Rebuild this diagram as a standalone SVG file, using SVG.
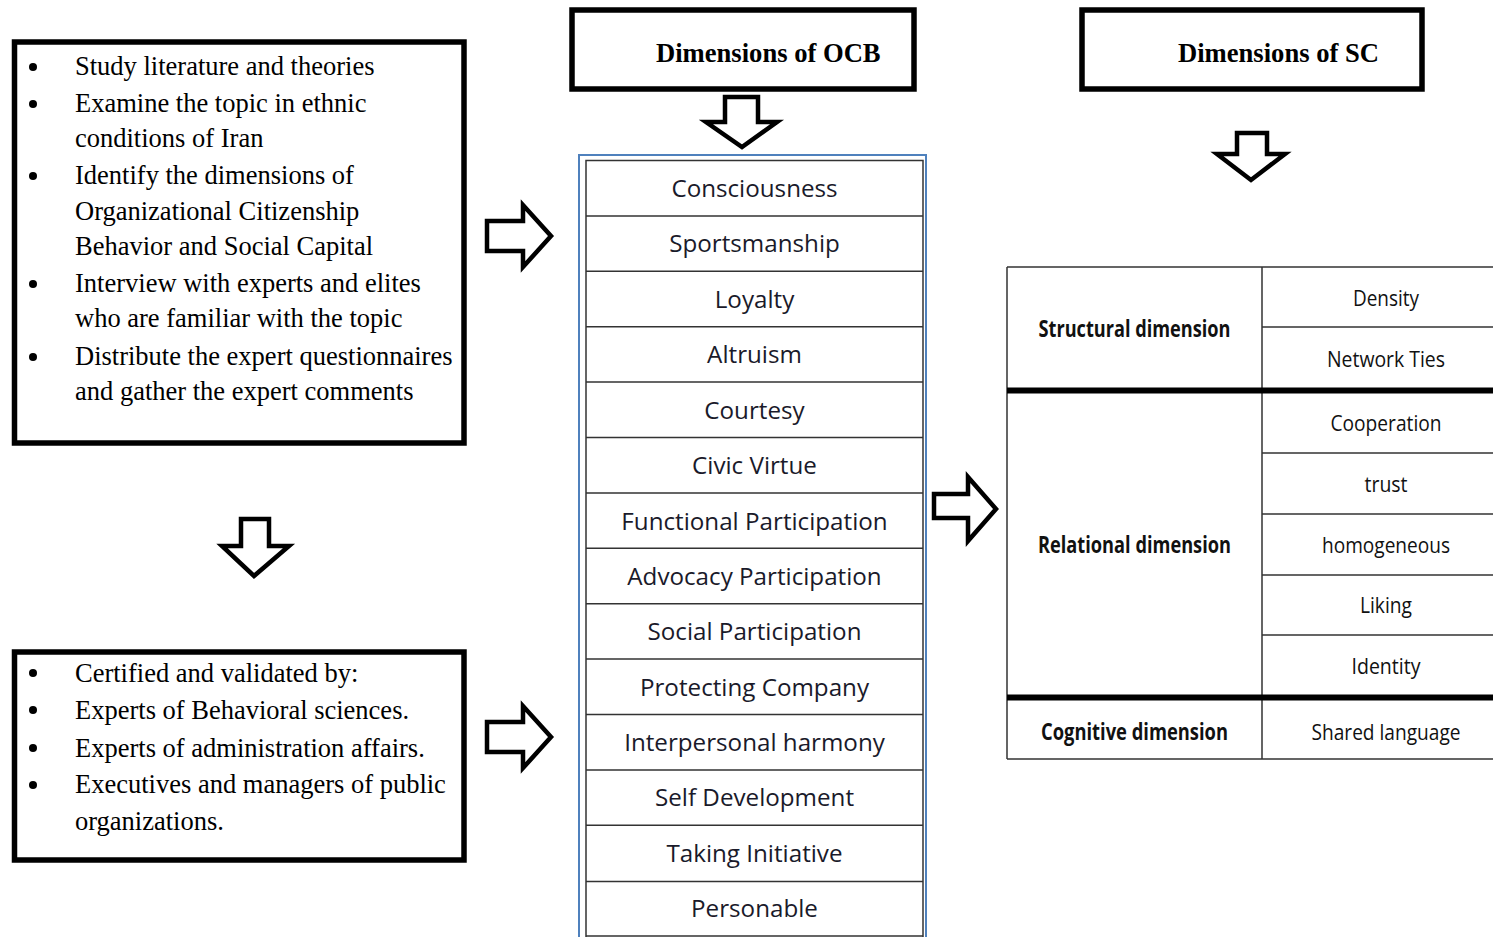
<svg xmlns="http://www.w3.org/2000/svg" width="1493" height="937" viewBox="0 0 1493 937">
<style>
.box{fill:#fff;stroke:#000;stroke-width:5.5}
.serif{font-family:"Liberation Serif","Times New Roman",serif;font-size:26.5px;fill:#000}
.hdr{font-family:"Liberation Serif","Times New Roman",serif;font-size:26.6px;font-weight:bold;fill:#000}
.arrow{fill:#fff;stroke:#000;stroke-width:4.5;stroke-linejoin:miter}
.ocb{font-family:"Open Sans","Noto Sans",sans-serif;font-size:24.2px;fill:#1a1a2a;text-anchor:middle}
.sc{font-family:"Open Sans","Noto Sans",sans-serif;font-size:22.5px;fill:#111;text-anchor:middle}
.scb{font-family:"Open Sans","Noto Sans",sans-serif;font-size:22.5px;font-weight:bold;fill:#111;text-anchor:middle}
.thin{stroke:#333;stroke-width:1.5;fill:none}
.thick{stroke:#000;stroke-width:6;fill:none}
</style>

<g id="steps-box">
<rect class="box" x="14.5" y="42" width="449.5" height="401"/>
<circle cx="33" cy="67" r="4"/>
<circle cx="33" cy="104" r="4"/>
<circle cx="33" cy="176" r="4"/>
<circle cx="33" cy="284" r="4"/>
<circle cx="33" cy="357" r="4"/>
<text class="serif" x="75" y="75">Study literature and theories</text>
<text class="serif" x="75" y="112">Examine the topic in ethnic</text>
<text class="serif" x="75" y="147">conditions of Iran</text>
<text class="serif" x="75" y="184">Identify the dimensions of</text>
<text class="serif" x="75" y="220">Organizational Citizenship</text>
<text class="serif" x="75" y="255">Behavior and Social Capital</text>
<text class="serif" x="75" y="292">Interview with experts and elites</text>
<text class="serif" x="75" y="327">who are familiar with the topic</text>
<text class="serif" x="75" y="365">Distribute the expert questionnaires</text>
<text class="serif" x="75" y="400">and gather the expert comments</text>
</g>

<g id="validation-box">
<rect class="box" x="14.5" y="652" width="449.5" height="208"/>
<circle cx="33" cy="673" r="4"/>
<circle cx="33" cy="710" r="4"/>
<circle cx="33" cy="748" r="4"/>
<circle cx="33" cy="785" r="4"/>
<text class="serif" x="75" y="682">Certified and validated by:</text>
<text class="serif" x="75" y="719">Experts of Behavioral sciences.</text>
<text class="serif" x="75" y="757">Experts of administration affairs.</text>
<text class="serif" x="75" y="793">Executives and managers of public</text>
<text class="serif" x="75" y="830">organizations.</text>
</g>

<g id="ocb-header">
<rect class="box" x="572" y="10" width="342" height="79"/>
<text class="hdr" x="656" y="62">Dimensions of OCB</text>
</g>

<g id="sc-header">
<rect class="box" x="1082" y="10" width="340" height="79"/>
<text class="hdr" x="1178" y="62">Dimensions of SC</text>
</g>

<g id="ocb-list">
<rect x="579" y="155" width="347" height="800" fill="#fff" stroke="#4F81BD" stroke-width="2"/>
<rect class="thin" x="586" y="160.5" width="337" height="790"/>
<path class="thin" d="M586 216H923M586 271.3H923M586 326.7H923M586 382.1H923M586 437.5H923M586 492.9H923M586 548.3H923M586 603.7H923M586 659.1H923M586 714.5H923M586 769.9H923M586 825.3H923M586 881.5H923M586 936H923"/>
<text class="ocb" x="754.5" y="197">Consciousness</text>
<text class="ocb" x="754.5" y="252">Sportsmanship</text>
<text class="ocb" x="754.5" y="308">Loyalty</text>
<text class="ocb" x="754.5" y="363">Altruism</text>
<text class="ocb" x="754.5" y="419">Courtesy</text>
<text class="ocb" x="754.5" y="474">Civic Virtue</text>
<text class="ocb" x="754.5" y="530">Functional Participation</text>
<text class="ocb" x="754.5" y="585">Advocacy Participation</text>
<text class="ocb" x="754.5" y="640">Social Participation</text>
<text class="ocb" x="754.5" y="696">Protecting Company</text>
<text class="ocb" x="754.5" y="751">Interpersonal harmony</text>
<text class="ocb" x="754.5" y="806">Self Development</text>
<text class="ocb" x="754.5" y="862">Taking Initiative</text>
<text class="ocb" x="754.5" y="917">Personable</text>
</g>

<g id="sc-table">
<path class="thin" d="M1007 267H1493M1007 267V759M1262 267V759M1262 327H1493M1262 453H1493M1262 514H1493M1262 575H1493M1262 635H1493M1007 759H1493"/>
<path class="thick" d="M1007 390.5H1493M1007 697.5H1493"/>
<text class="scb" x="1134.5" y="337" textLength="192" lengthAdjust="spacingAndGlyphs">Structural dimension</text>
<text class="scb" x="1134.5" y="553" textLength="193" lengthAdjust="spacingAndGlyphs">Relational dimension</text>
<text class="scb" x="1134.5" y="740" textLength="187" lengthAdjust="spacingAndGlyphs">Cognitive dimension</text>
<text class="sc" x="1386" y="306" textLength="66" lengthAdjust="spacingAndGlyphs">Density</text>
<text class="sc" x="1386" y="367" textLength="118" lengthAdjust="spacingAndGlyphs">Network Ties</text>
<text class="sc" x="1386" y="431" textLength="111" lengthAdjust="spacingAndGlyphs">Cooperation</text>
<text class="sc" x="1386" y="492" textLength="43" lengthAdjust="spacingAndGlyphs">trust</text>
<text class="sc" x="1386" y="553" textLength="128" lengthAdjust="spacingAndGlyphs">homogeneous</text>
<text class="sc" x="1386" y="613" textLength="52" lengthAdjust="spacingAndGlyphs">Liking</text>
<text class="sc" x="1386" y="674" textLength="69" lengthAdjust="spacingAndGlyphs">Identity</text>
<text class="sc" x="1386" y="740" textLength="149" lengthAdjust="spacingAndGlyphs">Shared language</text>
</g>

<g id="connectors">
<polygon class="arrow" points="725,97 758,97 758,122 777,122 742,147 706,122 725,122"/>
<polygon class="arrow" points="1237,133 1267,133 1267,154 1285,154 1251,180 1217,154 1237,154"/>
<polygon class="arrow" points="241,519 269,519 269,546 289,546 254,576 222,546 241,546"/>
<polygon class="arrow" points="487,221 523,221 523,205 551,236 523,267 523,251 487,251"/>
<polygon class="arrow" points="487,722 523,722 523,706 551,737 523,768 523,752 487,752"/>
<polygon class="arrow" points="934,494 968,494 968,477 996,509 968,541 968,518 934,518"/>
</g>
</svg>
